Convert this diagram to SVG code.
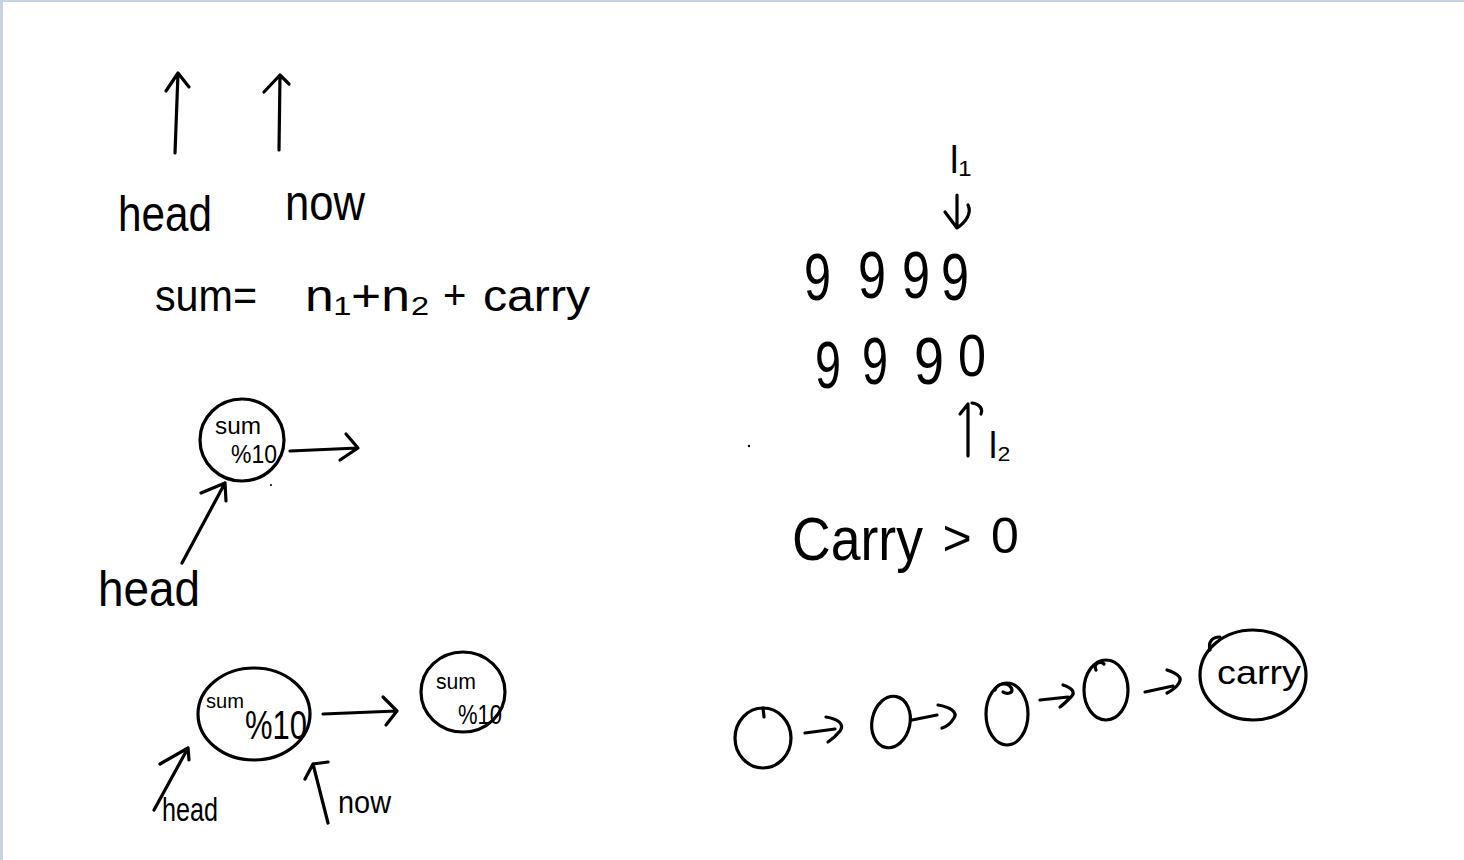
<svg xmlns="http://www.w3.org/2000/svg" width="1464" height="860" viewBox="0 0 1464 860">
<style>
.s{fill:none;stroke:#000;stroke-width:3.2;stroke-linecap:round;stroke-linejoin:round}
.t{font-family:"Liberation Sans","DejaVu Sans",sans-serif;fill:#000}
.d{font-family:"Liberation Sans","DejaVu Sans",sans-serif;fill:#000;text-anchor:middle}
</style>
<rect x="0" y="0" width="1464" height="860" fill="#ffffff"/>
<rect x="0" y="0" width="1464" height="2" fill="#c9d2e2"/>
<rect x="0" y="0" width="3" height="860" fill="#c9d2e2"/>

<g id="connectors">
  <!-- top arrows -->
  <path class="s" d="M175,153 L178,73 M166,91 L178,73 L189,87"/>
  <path class="s" d="M279,150 L280,75 M264,92 L280,75 L289,84"/>
  <!-- head -> middle node -->
  <path class="s" d="M182,563 L225,483 M201,493 L225,483 L226,501"/>
  <!-- middle node outgoing -->
  <path class="s" d="M290,451 L358,448 M346,434 L358,448 L340,460"/>
  <!-- bottom-left head / now pointers -->
  <path class="s" d="M154,810 L188,748 M160,764 L188,748 L189,760"/>
  <path class="s" d="M328,823 L313,764 L328,762 M313,764 L305,779"/>
  <!-- bottom ellipse -> right circle -->
  <path class="s" d="M323,714 L397,711 M383,697 L397,711 L386,725"/>
  <!-- l1 down arrow -->
  <path class="s" d="M957,195 L957,228 M945,212 L957,228 C966,222 972,213 968,205"/>
  <!-- l2 up arrow -->
  <path class="s" d="M968,456 L968,404 M960,414 L968,404 M972,403 C980,404 983,409 981,414"/>
  <!-- linked list arrows -->
  <path class="s" d="M805,733 L835,729 M826,717 C838,719 845,724 840,731 C836,736 831,740 828,742"/>
  <path class="s" d="M912,720 L937,715 M938,705 C950,707 958,712 954,718 C951,723 946,727 942,728"/>
  <path class="s" d="M1040,700 L1068,697 M1063,685 C1072,688 1076,692 1071,697 C1067,701 1063,705 1060,707"/>
  <path class="s" d="M1145,692 L1173,686 M1167,670 C1176,673 1183,677 1179,683 C1176,688 1171,691 1167,693"/>
</g>

<g id="top-head"><text class="t" x="118" y="231" font-size="50" textLength="94" lengthAdjust="spacingAndGlyphs">head</text></g>
<g id="top-now"><text class="t" x="285" y="220" font-size="50" textLength="80" lengthAdjust="spacingAndGlyphs">now</text></g>

<g id="formula">
  <text class="t" x="155" y="311" font-size="44" textLength="102" lengthAdjust="spacingAndGlyphs">sum=</text>
  <text class="t" x="305" y="311" font-size="44" textLength="125" lengthAdjust="spacingAndGlyphs">n₁+n₂</text>
  <text class="t" x="443" y="309" font-size="40">+</text>
  <text class="t" x="483" y="311" font-size="44" textLength="107" lengthAdjust="spacingAndGlyphs">carry</text>
</g>

<g id="node-mid">
  <ellipse class="s" cx="242" cy="440" rx="42" ry="41"/>
  <text class="t" x="215" y="434" font-size="24" textLength="46" lengthAdjust="spacingAndGlyphs">sum</text>
  <text class="t" x="231" y="463" font-size="26" textLength="46" lengthAdjust="spacingAndGlyphs">%10</text>
  <circle cx="271" cy="485" r="1" fill="#000"/>
</g>
<g id="mid-head"><text class="t" x="98" y="606" font-size="50" textLength="102" lengthAdjust="spacingAndGlyphs">head</text></g>

<g id="node-bottom-1">
  <ellipse class="s" cx="254" cy="714" rx="56" ry="46"/>
  <text class="t" x="206" y="708" font-size="20" textLength="38" lengthAdjust="spacingAndGlyphs">sum</text>
  <text class="t" x="245" y="739" font-size="40" textLength="62" lengthAdjust="spacingAndGlyphs">%10</text>
</g>
<g id="node-bottom-2">
  <ellipse class="s" cx="463" cy="692" rx="42" ry="40"/>
  <text class="t" x="436" y="689" font-size="22" textLength="40" lengthAdjust="spacingAndGlyphs">sum</text>
  <text class="t" x="458" y="724" font-size="28" textLength="44" lengthAdjust="spacingAndGlyphs">%10</text>
</g>
<g id="bottom-head"><text class="t" x="162" y="821" font-size="34" textLength="56" lengthAdjust="spacingAndGlyphs">head</text></g>
<g id="bottom-now"><text class="t" x="338" y="813" font-size="32" textLength="53" lengthAdjust="spacingAndGlyphs">now</text></g>

<g id="l1"><text class="t" x="950" y="173" font-size="38">l₁</text></g>
<g id="row1">
  <text class="t" x="804" y="300" font-size="66" textLength="27" lengthAdjust="spacingAndGlyphs">9</text>
  <text class="t" x="858" y="298" font-size="66" textLength="28" lengthAdjust="spacingAndGlyphs">9</text>
  <text class="t" x="902" y="298" font-size="66" textLength="28" lengthAdjust="spacingAndGlyphs">9</text>
  <text class="t" x="941" y="300" font-size="66" textLength="28" lengthAdjust="spacingAndGlyphs">9</text>
</g>
<g id="row2">
  <text class="t" x="815" y="388" font-size="66" textLength="26" lengthAdjust="spacingAndGlyphs">9</text>
  <text class="t" x="862" y="384" font-size="66" textLength="26" lengthAdjust="spacingAndGlyphs">9</text>
  <text class="t" x="914" y="384" font-size="66" textLength="30" lengthAdjust="spacingAndGlyphs">9</text>
  <text class="t" x="958" y="376" font-size="60" textLength="28" lengthAdjust="spacingAndGlyphs">0</text>
</g>
<g id="l2"><text class="t" x="989" y="458" font-size="36">l₂</text></g>
<circle cx="749" cy="446" r="1.2" fill="#000"/>

<g id="carry-cond">
  <text class="t" x="792" y="560" font-size="62" textLength="131" lengthAdjust="spacingAndGlyphs">Carry</text>
  <text class="d" x="957" y="555" font-size="50">&gt;</text>
  <text class="d" x="1005" y="553" font-size="50">0</text>
</g>

<g id="list-node-1"><ellipse class="s" cx="763" cy="738" rx="28" ry="30"/><path class="s" d="M763,708 L764,717"/></g>
<g id="list-node-2"><ellipse class="s" cx="891" cy="722" rx="19" ry="26" transform="rotate(12 891 722)"/></g>
<g id="list-node-3"><ellipse class="s" cx="1007" cy="714" rx="21" ry="31"/><path class="s" d="M995,690 C998,682 1010,682 1012,690 C1012,694 1006,694 1003,692"/></g>
<g id="list-node-4"><ellipse class="s" cx="1106" cy="690" rx="22" ry="30"/><path class="s" d="M1096,670 C1093,664 1100,660 1104,664"/></g>
<g id="list-node-carry">
  <ellipse class="s" cx="1253" cy="675" rx="53" ry="45"/>
  <path class="s" d="M1210,650 C1208,642 1212,637 1220,637"/>
  <text class="t" x="1217" y="684" font-size="34" textLength="84" lengthAdjust="spacingAndGlyphs">carry</text>
</g>
</svg>
